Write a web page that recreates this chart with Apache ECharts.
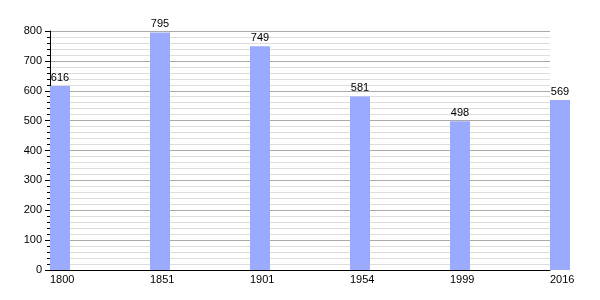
<!DOCTYPE html>
<html>
<head>
<meta charset="utf-8">
<script src="https://cdn.jsdelivr.net/npm/echarts@6/dist/echarts.min.js"></script>
<style>html,body{margin:0;padding:0;background:#fff}#c{width:600px;height:300px}</style>
</head>
<body>
<div id="c"></div>
<script>
const years = ['1800', '1851', '1901', '1954', '1999', '2016'];
const population = [616, 795, 749, 581, 498, 569];
const spacer = ['-', '-', '-', '-', '-', '-'];

const chart = echarts.init(document.getElementById('c'), null, {renderer: 'canvas'});
const font = "'Liberation Sans', Arial, sans-serif";
chart.setOption({
  animation: false,
  backgroundColor: '#fff',
  textStyle: {fontFamily: font},
  grid: {left: 50, right: 50, top: 31, bottom: 30, containLabel: false},
  xAxis: {
    type: 'category',
    data: years,
    boundaryGap: false,
    axisLine: {lineStyle: {color: '#000', width: 1}},
    axisTick: {show: false},
    splitLine: {show: false},
    axisLabel: {color: '#000', fontSize: 11, fontFamily: font, align: 'left', margin: 4, interval: 0}
  },
  yAxis: {
    type: 'value',
    min: 0, max: 800, interval: 100,
    axisLine: {show: true, lineStyle: {color: '#000', width: 1}},
    axisTick: {show: true, length: 5, lineStyle: {color: '#000'}},
    minorTick: {show: true, splitNumber: 5, length: 3, lineStyle: {color: '#000'}},
    splitLine: {show: true, lineStyle: {color: '#aaaaaa', width: 1}},
    minorSplitLine: {show: true, lineStyle: {color: '#dddddd', width: 1}},
    axisLabel: {color: '#000', fontSize: 11, fontFamily: font, margin: 8}
  },
  series: [
    {type: 'bar', data: spacer, barWidth: 20, barGap: '0%', silent: true},
    {
      type: 'bar', data: population, barWidth: 20, barGap: '0%', clip: false,
      itemStyle: {color: '#99aaff'},
      label: {show: true, position: 'top', distance: 3, color: '#000', fontSize: 11, fontFamily: font}
    }
  ]
});
</script>
</body>
</html>
